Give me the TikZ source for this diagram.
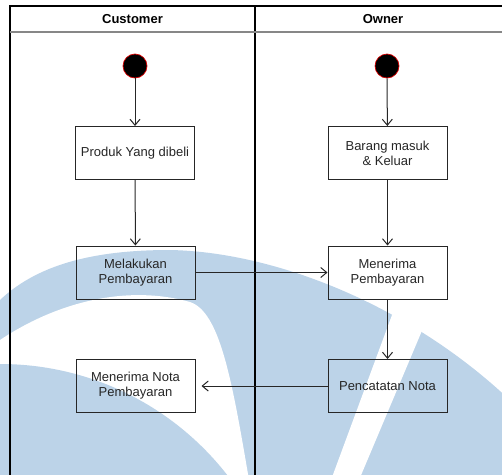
\documentclass[tikz,border=0pt]{standalone}
\usepackage{fontspec}
\setmainfont{Liberation Sans}
\usetikzlibrary{arrows.meta}
\definecolor{wm}{RGB}{188,211,232}
\definecolor{ink}{RGB}{38,38,38}
\definecolor{rule}{RGB}{135,135,135}
\begin{document}
\begin{tikzpicture}[x=1pt,y=-1pt,
  act/.style={draw=ink, line width=1pt, minimum width=119pt, minimum height=53pt,
    align=center, inner sep=2pt, text=ink, font=\fontsize{13}{15}\selectfont},
  startdot/.style={circle, fill=black, draw=red!85!black, line width=0.7pt,
    minimum size=24pt, inner sep=0pt},
  flow/.style={draw=ink, line width=1pt, -{Straight Barb[length=6pt,width=10pt]}},
  lane/.style={draw=black, line width=1.5pt},
  lanehead/.style={text=black, font=\fontsize{13}{15}\selectfont\bfseries}]

\useasboundingbox (0,0) rectangle (502,474);

% background emblem
\begin{scope}
  \clip (0,0) rectangle (502,474);
  \fill[wm] (0,300) .. controls (40,262) and (100,250) .. (170,250)
    .. controls (280,252) and (420,310) .. (520,410) -- (520,480) -- (0,480) -- cycle;
  \fill[white] (0,340) .. controls (60,300) and (130,285) .. (190,302)
    .. controls (220,312) and (232,380) .. (249,480) -- (0,480) -- cycle;
  \fill[wm] (0,652) circle[radius=288];
  \fill[white] (416,250) -- (456,250) -- (359,480) -- (331,480) -- cycle;
\end{scope}

% swimlanes
\draw[lane] (10,480) -- (10,6) -- (512,6);
\draw[lane] (255,6) -- (255,480);
\draw[draw=rule, line width=1.5pt] (10,32) -- (512,32);
\node[lanehead] (hc) at (132.5,19) {Customer};
\node[lanehead] (ho) at (383,19) {Owner};

% activities
\node[startdot] (cs) at (135,66) {};
\node[startdot] (os) at (387,66) {};
\node[act] (produk) at (135,153) {Produk Yang dibeli};
\node[act] (barang) at (387.5,153) {Barang masuk\\\& Keluar};
\node[act] (bayar) at (135.5,272.5) {Melakukan\\Pembayaran};
\node[act] (terima) at (387.5,272.5) {Menerima\\Pembayaran};
\node[act] (nota) at (135.5,386) {Menerima Nota\\Pembayaran};
\node[act] (catat) at (387.5,386) {Pencatatan Nota};

% flows
\draw[flow] (cs) -- (produk);
\draw[flow] (os) -- (barang);
\draw[flow] (produk) -- (bayar);
\draw[flow] (barang) -- (terima);
\draw[flow] (bayar) -- (terima);
\draw[flow] (terima) -- (catat);
\draw[flow, shorten >=6pt] (catat) -- (nota);
\end{tikzpicture}
\end{document}
